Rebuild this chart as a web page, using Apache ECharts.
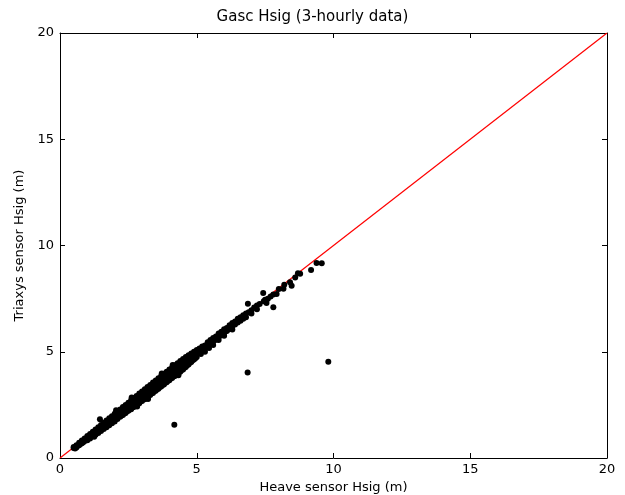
<!DOCTYPE html>
<html><head><meta charset="utf-8">
<script src="https://cdn.jsdelivr.net/npm/echarts@6/dist/echarts.min.js"></script>
<style>html,body{margin:0;padding:0;background:#fff}#c{width:625px;height:495px}</style>
</head><body><div id="c"></div>
<script>
const titleText = "Gasc Hsig (3-hourly data)";
const xName = "Heave sensor Hsig (m)";
const yName = "Triaxys sensor Hsig (m)";
const axisTicks = [0, 5, 10, 15, 20];
const refLine = [[0, 0], [20, 20]];
const scatterPoints = [
[0.5,0.47],[0.5,0.52],[0.55,0.45],[0.6,0.6],[0.6,0.5],[0.65,0.58],[0.7,0.72],[0.7,0.6],[0.75,0.66],
[0.8,0.82],[0.8,0.7],[0.8,0.76],[0.85,0.74],[0.9,0.92],[0.9,0.8],[0.9,0.86],[0.95,0.84],
[1.0,1.03],[1.0,0.9],[1.0,0.96],[1.0,0.84],[1.05,0.97],[1.1,1.13],[1.1,1.0],[1.1,0.92],[1.15,1.05],
[1.2,1.24],[1.2,1.1],[1.2,1.02],[1.25,1.16],[1.3,1.34],[1.3,1.2],[1.3,1.1],[1.35,1.26],
[1.4,1.45],[1.4,1.3],[1.4,1.18],[1.45,1.36],[1.5,1.55],[1.5,1.4],[1.5,1.27],[1.55,1.47],
[1.6,1.66],[1.6,1.5],[1.6,1.36],[1.65,1.58],[1.7,1.76],[1.7,1.6],[1.7,1.45],[1.75,1.66],
[1.8,1.87],[1.8,1.7],[1.8,1.54],[1.85,1.78],[1.9,1.97],[1.9,1.8],[1.9,1.63],[1.95,1.86],
[2.0,2.08],[2.0,1.9],[2.0,1.72],[2.05,1.97],[2.1,2.17],[2.1,2.0],[2.1,1.83],[2.15,2.06],
[2.2,2.28],[2.2,2.1],[2.2,1.94],[2.25,2.16],[2.25,2.0],[2.3,2.4],[2.3,2.2],[2.3,2.02],[2.35,2.27],[2.35,2.1],
[2.4,2.5],[2.4,2.3],[2.4,2.12],[2.45,2.36],[2.45,2.2],[2.5,2.6],[2.5,2.4],[2.5,2.22],[2.55,2.47],[2.55,2.28],
[2.6,2.72],[2.6,2.5],[2.6,2.3],[2.65,2.56],[2.65,2.38],[2.7,2.82],[2.7,2.6],[2.7,2.4],[2.75,2.66],[2.75,2.48],
[2.8,2.92],[2.8,2.7],[2.8,2.5],[2.85,2.76],[2.85,2.57],[2.9,3.03],[2.9,2.8],[2.9,2.58],[2.95,2.86],[2.95,2.67],
[3.0,3.13],[3.0,2.9],[3.0,2.68],[3.05,2.97],[3.05,2.76],[3.1,3.24],[3.1,3.0],[3.1,2.77],[3.15,3.06],[3.15,2.86],
[3.2,3.34],[3.2,3.1],[3.2,2.87],[3.25,3.17],[3.25,2.95],[3.3,3.44],[3.3,3.2],[3.3,2.96],[3.35,3.27],[3.35,3.05],
[3.4,3.55],[3.4,3.3],[3.4,3.06],[3.45,3.37],[3.45,3.14],[3.5,3.65],[3.5,3.4],[3.5,3.16],[3.55,3.47],[3.55,3.24],
[3.6,3.75],[3.6,3.5],[3.6,3.26],[3.65,3.57],[3.65,3.34],[3.7,3.86],[3.7,3.6],[3.7,3.36],[3.75,3.67],[3.75,3.44],
[3.8,3.96],[3.8,3.7],[3.8,3.46],[3.85,3.77],[3.85,3.54],[3.9,4.06],[3.9,3.8],[3.9,3.56],[3.95,3.87],[3.95,3.64],
[4.0,4.16],[4.0,3.9],[4.0,3.66],[4.05,3.97],[4.05,3.74],[4.1,4.26],[4.1,4.0],[4.1,3.76],[4.15,4.07],[4.15,3.84],
[4.2,4.36],[4.2,4.1],[4.2,3.86],[4.25,4.17],[4.25,3.94],[4.3,4.46],[4.3,4.2],[4.3,3.96],[4.35,4.27],[4.35,4.04],
[4.4,4.56],[4.4,4.3],[4.4,4.06],[4.45,4.37],[4.45,4.14],[4.5,4.66],[4.5,4.4],[4.5,4.17],[4.55,4.47],[4.55,4.25],
[4.6,4.75],[4.6,4.5],[4.6,4.28],[4.65,4.57],[4.65,4.36],[4.7,4.84],[4.7,4.6],[4.7,4.4],[4.75,4.67],[4.75,4.48],
[4.8,4.92],[4.8,4.7],[4.8,4.52],[4.85,4.77],[4.85,4.6],[4.9,5.0],[4.9,4.8],[4.9,4.64],[4.95,4.86],[4.95,4.7],
[5.0,5.08],[5.0,4.9],[5.0,4.75],[5.05,4.95],
[2.62,2.85],[3.22,2.78],[3.72,3.98],[4.33,3.9],[2.05,2.25],[2.82,2.42],[4.12,4.38],[1.25,1.0],
[5.1,5.15],[5.1,4.98],[5.15,5.05],[5.15,4.9],[5.2,5.25],[5.2,5.08],[5.25,5.15],
[5.3,5.3],[5.3,5.14],[5.3,5.0],[5.35,5.22],[5.4,5.45],[5.4,5.28],[5.45,5.35],[5.45,5.18],
[5.5,5.55],[5.5,5.38],[5.55,5.44],[5.6,5.65],[5.6,5.48],[5.6,5.32],[5.65,5.55],
[5.7,5.72],[5.7,5.56],[5.75,5.64],[5.8,5.86],[5.8,5.7],[5.8,5.55],[5.85,5.76],
[5.9,5.94],[5.9,5.78],[5.95,5.85],[6.0,6.06],[6.0,5.9],[6.0,5.75],[6.05,5.96],
[6.1,6.12],[6.1,5.98],[6.15,6.05],[6.2,6.25],[6.2,6.1],[6.25,6.18],[6.3,6.35],[6.3,6.2],[6.3,6.05],
[6.4,6.42],[6.4,6.28],[6.5,6.55],[6.5,6.38],[6.6,6.62],[6.6,6.46],[6.7,6.72],[6.7,6.55],[6.8,6.8],[6.8,6.62],
[6.87,7.26],[6.9,6.86],[7.0,6.95],[7.0,6.8],[7.1,7.08],[7.2,7.18],[7.2,7.0],[7.3,7.25],[7.45,7.38],[7.6,7.5],
[7.5,7.45],[7.55,7.3],[7.7,7.6],[7.8,7.7],[7.8,7.09],[7.92,7.72],[8.0,7.95],[8.17,7.96],[8.2,8.15],
[8.41,8.27],[8.47,8.11],[8.6,8.5],[8.7,8.7],[8.78,8.67],[9.18,8.85],[9.38,9.18],[9.57,9.17],
[1.46,1.82],[4.18,1.57],[6.86,4.02],[9.81,4.53],[7.43,7.77]
];

const chart = echarts.init(document.getElementById('c'));
const font = 'DejaVu Sans';
function ax(extra) {
  return Object.assign({
    type: 'value', min: 0, max: 20, interval: 5,
    axisLine: { show: true, onZero: false, lineStyle: { color: '#000', width: 1 } },
    axisTick: { show: true, inside: true, length: 5, lineStyle: { color: '#000' } },
    splitLine: { show: false }
  }, extra);
}
const lbl = { fontFamily: font, fontSize: 13, color: '#000',
  formatter: v => axisTicks.indexOf(v) >= 0 ? String(v) : '' };
chart.setOption({
  animation: false,
  backgroundColor: '#fff',
  title: { text: titleText, left: 'center', top: 5, textStyle: { fontFamily: font, fontSize: 15, fontWeight: 'normal', color: '#000' } },
  grid: { left: 60, right: 18, top: 33, bottom: 37, containLabel: false, outerBoundsMode: 'none' },
  xAxis: [
    ax({ position: 'bottom', name: xName, nameLocation: 'middle', nameGap: 23,
      nameTextStyle: { fontFamily: font, fontSize: 13, color: '#000' },
      axisLabel: Object.assign({ margin: 5 }, lbl) }),
    ax({ position: 'top', axisLabel: { show: false } })
  ],
  yAxis: [
    ax({ position: 'left', name: yName, nameLocation: 'middle', nameGap: 30,
      nameTextStyle: { fontFamily: font, fontSize: 13, color: '#000' },
      axisLabel: Object.assign({ margin: 6 }, lbl) }),
    ax({ position: 'right', axisLabel: { show: false } })
  ],
  series: [
    { type: 'line', data: refLine, xAxisIndex: 0, yAxisIndex: 0, symbol: 'none', z: 1,
      lineStyle: { color: '#ff0000', width: 1.2 } },
    { type: 'scatter', data: scatterPoints, xAxisIndex: 0, yAxisIndex: 0, symbol: 'circle', symbolSize: 6, z: 2,
      itemStyle: { color: '#000', opacity: 1 } }
  ]
});
</script>
</body></html>
